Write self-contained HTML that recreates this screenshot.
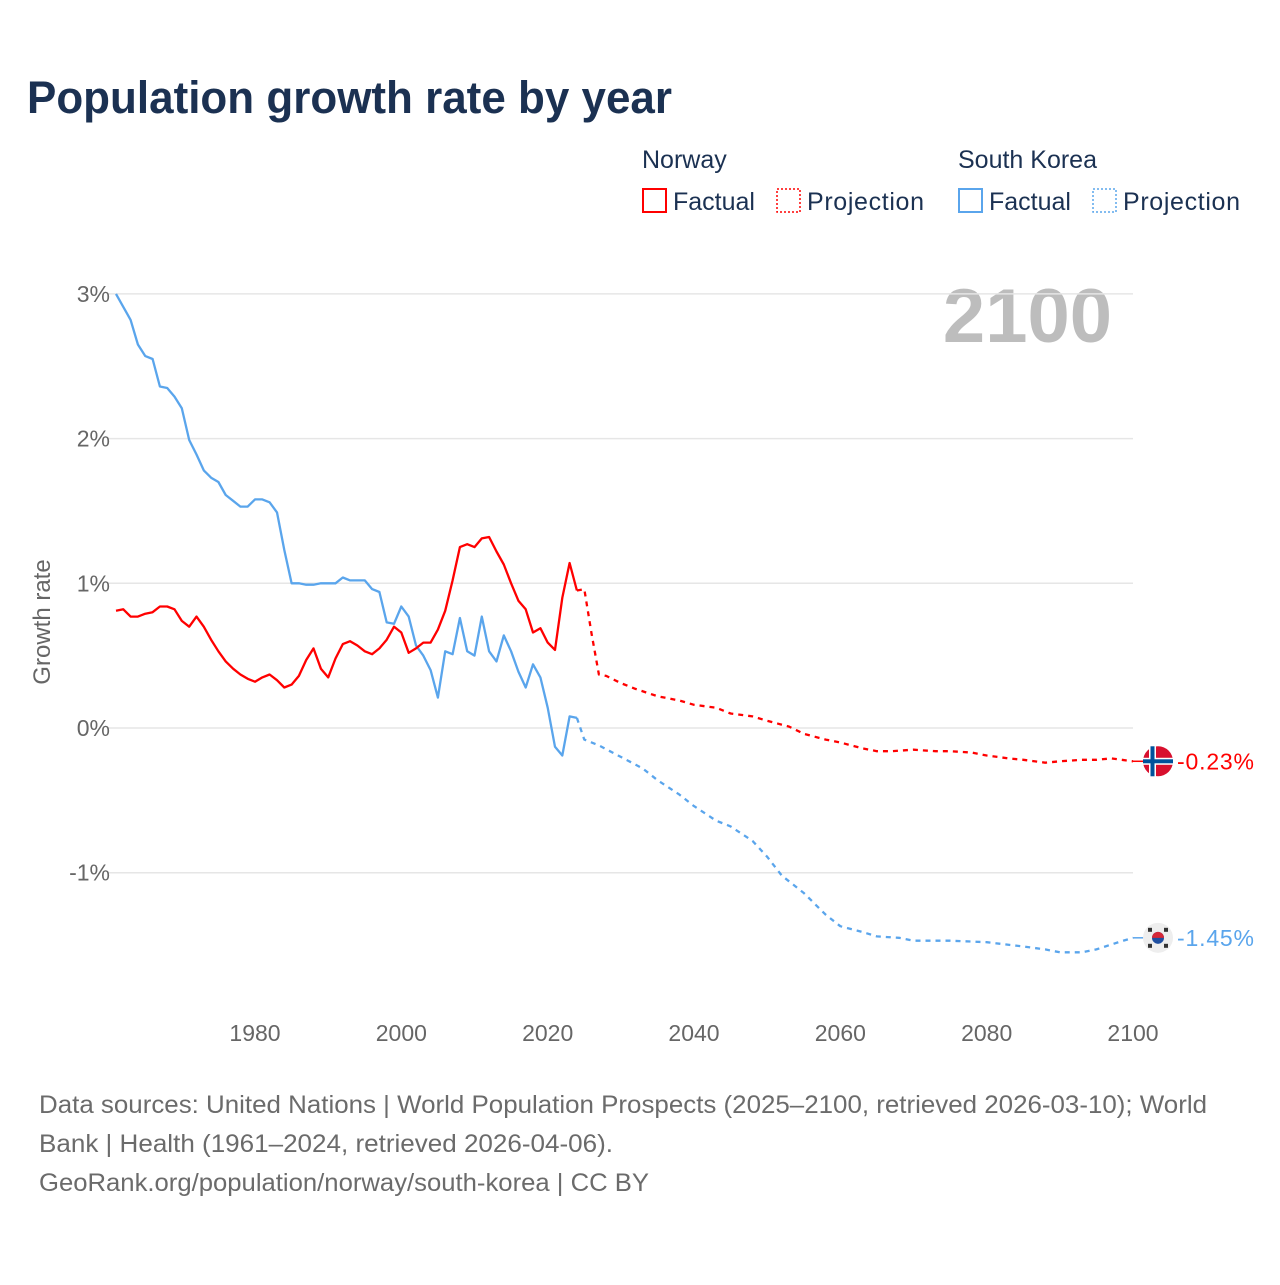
<!DOCTYPE html>
<html><head><meta charset="utf-8"><style>
body{margin:0;background:#fff;width:1280px;height:1280px;overflow:hidden;font-family:"Liberation Sans",sans-serif;}
svg text{font-family:"Liberation Sans",sans-serif;}
</style></head><body>
<svg id="chart" width="1280" height="1280" xmlns="http://www.w3.org/2000/svg">
<text x="27" y="113" font-size="45" font-weight="bold" fill="#1b3152" textLength="645" lengthAdjust="spacingAndGlyphs">Population growth rate by year</text>
<g font-size="25" fill="#1b3152">
<text x="642" y="168">Norway</text>
<text x="958" y="168">South Korea</text>
<g><rect x="643" y="189" width="23" height="23" fill="none" stroke="#f00" stroke-width="2"/><text x="673" y="210">Factual</text></g>
<g><rect x="777" y="189" width="23" height="23" fill="none" stroke="#f00" stroke-width="1.5" stroke-dasharray="2,2"/><text x="807" y="210" textLength="117">Projection</text></g>
<g><rect x="959" y="189" width="23" height="23" fill="none" stroke="#5aa5ec" stroke-width="2"/><text x="989" y="210">Factual</text></g>
<g><rect x="1093" y="189" width="23" height="23" fill="none" stroke="#5aa5ec" stroke-width="1.5" stroke-dasharray="2,2"/><text x="1123" y="210" textLength="117">Projection</text></g>
</g>
<text x="1112" y="342" text-anchor="end" font-size="76" font-weight="bold" fill="#bdbdbd">2100</text>
<text transform="translate(50,622) rotate(-90)" text-anchor="middle" font-size="24" fill="#666">Growth rate</text>
<g id="grid"></g><g id="lines"></g><g id="ends"></g>
<g font-size="25" fill="#6b6b6b">
<text x="39" y="1113" textLength="1168" lengthAdjust="spacingAndGlyphs">Data sources: United Nations | World Population Prospects (2025–2100, retrieved 2026-03-10); World</text>
<text x="39" y="1152" textLength="574" lengthAdjust="spacingAndGlyphs">Bank | Health (1961–2024, retrieved 2026-04-06).</text>
<text x="39" y="1191" textLength="610" lengthAdjust="spacingAndGlyphs">GeoRank.org/population/norway/south-korea | CC BY</text>
</g>
</svg>
<script>
const yTicks=[3,2,1,0,-1];
const yTickLabels=["3%","2%","1%","0%","-1%"];
const xTicks=[1980,2000,2020,2040,2060,2080,2100];
const factYears=[];for(let y=1961;y<=2024;y++)factYears.push(y);
const norwayFact=[0.81,0.82,0.77,0.77,0.79,0.80,0.84,0.84,0.82,0.74,0.70,0.77,0.70,0.61,0.53,0.46,0.41,0.37,0.34,0.32,0.35,0.37,0.33,0.28,0.30,0.36,0.47,0.55,0.41,0.35,0.48,0.58,0.60,0.57,0.53,0.51,0.55,0.61,0.70,0.66,0.52,0.55,0.59,0.59,0.68,0.81,1.02,1.25,1.27,1.25,1.31,1.32,1.22,1.13,1.00,0.88,0.82,0.66,0.69,0.59,0.54,0.90,1.14,0.95];
const koreaFact=[3.00,2.91,2.82,2.65,2.57,2.55,2.36,2.35,2.29,2.21,1.99,1.89,1.78,1.73,1.70,1.61,1.57,1.53,1.53,1.58,1.58,1.56,1.49,1.23,1.00,1.00,0.99,0.99,1.00,1.00,1.00,1.04,1.02,1.02,1.02,0.96,0.94,0.73,0.72,0.84,0.77,0.57,0.50,0.40,0.21,0.53,0.51,0.76,0.53,0.50,0.77,0.53,0.46,0.64,0.53,0.39,0.28,0.44,0.35,0.14,-0.13,-0.19,0.08,0.07];
const norwayProjYears=[2024,2025,2026,2027,2028,2030,2032,2035,2038,2040,2043,2045,2048,2050,2053,2055,2058,2060,2063,2065,2067,2070,2073,2075,2078,2080,2083,2085,2088,2090,2093,2095,2097,2100];
const norwayProj=[0.95,0.96,0.65,0.37,0.36,0.31,0.27,0.22,0.19,0.16,0.14,0.10,0.08,0.05,0.01,-0.04,-0.08,-0.10,-0.14,-0.16,-0.16,-0.15,-0.16,-0.16,-0.17,-0.19,-0.21,-0.22,-0.24,-0.23,-0.22,-0.22,-0.21,-0.23];
const koreaProjYears=[2024,2025,2027,2030,2033,2035,2038,2040,2043,2045,2048,2050,2052,2055,2058,2060,2063,2065,2068,2070,2075,2080,2085,2088,2090,2093,2095,2098,2100];
const koreaProj=[0.07,-0.08,-0.12,-0.20,-0.28,-0.36,-0.46,-0.54,-0.64,-0.68,-0.78,-0.89,-1.02,-1.14,-1.29,-1.37,-1.41,-1.44,-1.45,-1.47,-1.47,-1.48,-1.51,-1.53,-1.55,-1.55,-1.53,-1.48,-1.45];
const endLabels=["-0.23%","-1.45%"];
const NS="http://www.w3.org/2000/svg";
const X=yr=>116+(yr-1961)*(1133-116)/(2100-1961);
const Y=v=>728-v*144.7;
function mk(t,a,p){const e=document.createElementNS(NS,t);for(const k in a)e.setAttribute(k,a[k]);p.appendChild(e);return e;}
const grid=document.getElementById('grid');
yTicks.forEach((t,i)=>{
 const l=mk('line',{x1:107,x2:1133,y1:Y(t),y2:Y(t),stroke:'#e6e6e6','stroke-width':1.5},grid);
 
 
 const tx=mk('text',{x:110,y:Y(t)+8,'text-anchor':'end','font-size':23,fill:'#666'},grid);
 tx.textContent=yTickLabels[i];
 
 
});
xTicks.forEach(t=>{
 const tx=mk('text',{x:X(t),y:1041,'text-anchor':'middle','font-size':23,fill:'#666'},grid);
 tx.textContent=t;
 
 
});
const lines=document.getElementById('lines');
function path(xs,vs,color,dash,name){
 const d=xs.map((x,i)=>(i?'L':'M')+X(x).toFixed(1)+','+Y(vs[i]).toFixed(1)).join('');
 const p=mk('path',{d:d,fill:'none',stroke:color,'stroke-width':2.3,'stroke-linejoin':'round'},lines);
 if(dash)p.setAttribute('stroke-dasharray',dash);
 
 
}
path(koreaProjYears,koreaProj,'#5aa5ec','5,5','korea-projection-line');
path(norwayProjYears,norwayProj,'#f00','5,5','norway-projection-line');
path(factYears,koreaFact,'#5aa5ec',null,'korea-factual-line');
path(factYears,norwayFact,'#f00',null,'norway-factual-line');
const ends=document.getElementById('ends');
function flagEnd(v,color,label,kind){
 const y=Y(v);
 mk('line',{x1:1133,x2:1145,y1:y,y2:y,stroke:color,'stroke-width':1.5},ends);
 const g=mk('g',{},ends);
 
 
 const cx=1158;
 if(kind==='norway'){
  mk('circle',{cx:cx,cy:y,r:15,fill:'#d8102e'},g);
  mk('rect',{x:cx-9,y:y-15,width:7,height:30,fill:'#fff'},g);
  mk('rect',{x:cx-15,y:y-3.5,width:30,height:7,fill:'#fff'},g);
  mk('rect',{x:cx-7.5,y:y-15,width:4,height:30,fill:'#00529b'},g);
  mk('rect',{x:cx-15,y:y-2,width:30,height:4,fill:'#00529b'},g);
 }else{
  mk('circle',{cx:cx,cy:y,r:15,fill:'#eee'},g);
  mk('circle',{cx:cx,cy:y,r:6,fill:'#1f4fa0'},g);
  mk('path',{d:`M${cx-6},${y} A6,6 0 0 1 ${cx+6},${y} Z`,fill:'#d62838'},g);
  [[-8,-8],[8,-8],[-8,8],[8,8]].forEach(o=>mk('rect',{x:cx+o[0]-2,y:y+o[1]-2,width:4,height:4,fill:'#333'},g));
 }
 const t=mk('text',{x:1177,y:y+8,'font-size':23,fill:color,textLength:77},ends);
 t.textContent=label;
 
 
}
flagEnd(norwayProj[norwayProj.length-1],'#f00',endLabels[0],'norway');
flagEnd(koreaProj[koreaProj.length-1],'#5aa5ec',endLabels[1],'korea');
</script>
</body></html>
